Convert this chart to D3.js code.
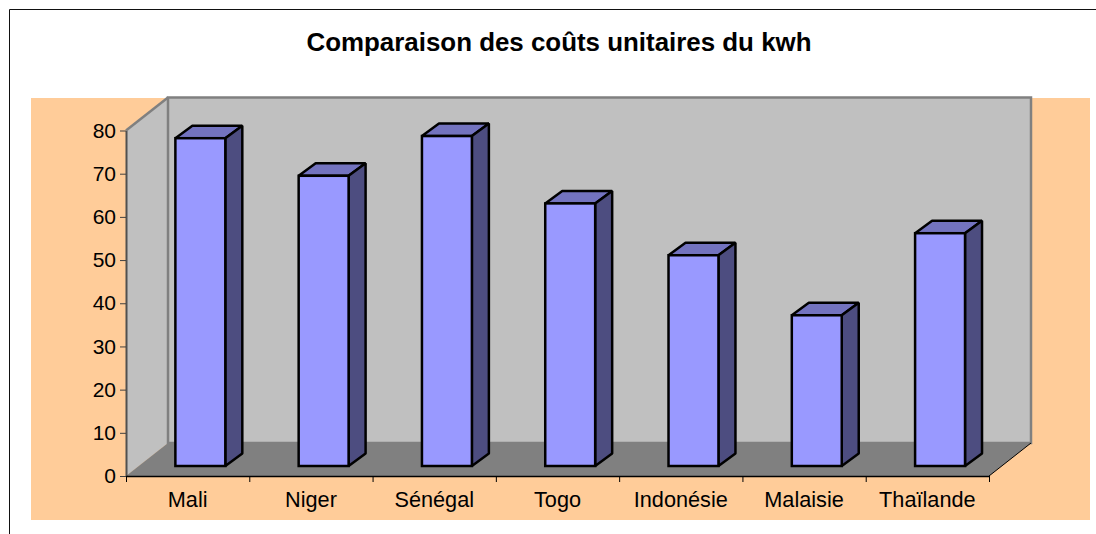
<!DOCTYPE html>
<html>
<head>
<meta charset="utf-8">
<script src="https://cdn.jsdelivr.net/npm/d3@7"></script>
<style>
  html, body { margin: 0; padding: 0; background: #fff; overflow: hidden; }
  text { font-family: "Liberation Sans", Arial, sans-serif; fill: #000; }
</style>
</head>
<body>
<script>
const categories = ['Mali', 'Niger', 'Sénégal', 'Togo', 'Indonésie', 'Malaisie', 'Thaïlande']
const values = [75.9, 67.2, 76.4, 60.8, 48.8, 34.9, 53.9]
const yTicks = [0, 10, 20, 30, 40, 50, 60, 70, 80]
const titleText = 'Comparaison des coûts unitaires du kwh'

const width = 1096
const height = 534

const x0 = 126
const x1 = 989
const y0 = 476
const y80 = 130.5
const wallDx = 42
const wallDy = -33
const barDx = 17
const barDy = -12.5
const barShiftX = 12.7
const barShiftY = -10

const x = d3.scaleBand().domain(categories).range([x0, x1]).paddingInner(0.595).paddingOuter(0.2975)
const xEdges = d3.scaleLinear().domain([0, categories.length]).range([x0, x1])
const y = d3.scaleLinear().domain([0, 80]).range([y0, y80])

const svg = d3.select('body').append('svg')
  .attr('width', width)
  .attr('height', height)
  .style('display', 'block')

// outer frame, only top and left show
svg.append('path')
  .attr('d', `M9.5,${height}V9.5H${width}`)
  .attr('fill', 'none')
  .attr('stroke', '#111')
  .attr('stroke-width', 1)

svg.append('rect')
  .attr('x', 31).attr('y', 98).attr('width', 1059).attr('height', 422)
  .attr('fill', '#ffcc99')

svg.append('text')
  .attr('x', 559).attr('y', 51)
  .attr('text-anchor', 'middle')
  .attr('font-size', 25.9)
  .attr('font-weight', 'bold')
  .text(titleText)

// walls
const poly = pts => 'M' + pts.map(p => p.join(',')).join('L') + 'Z'

svg.append('path')
  .attr('d', poly([[x0, y(80)], [x0 + wallDx, y(80) + wallDy], [x0 + wallDx, y0 + wallDy], [x0, y0]]))
  .attr('fill', '#c0c0c0')

svg.append('rect')
  .attr('x', x0 + wallDx).attr('y', y(80) + wallDy)
  .attr('width', x1 - x0).attr('height', y0 - y(80))
  .attr('fill', '#c0c0c0')
  .attr('stroke', '#808080')
  .attr('stroke-width', 2.5)

svg.append('path')
  .attr('d', poly([[x0, y0], [x1, y0], [x1 + wallDx, y0 + wallDy], [x0 + wallDx, y0 + wallDy]]))
  .attr('fill', '#808080')

svg.append('line')
  .attr('x1', x0).attr('y1', y(80)).attr('x2', x0 + wallDx).attr('y2', y(80) + wallDy)
  .attr('stroke', '#808080').attr('stroke-width', 2.5)

svg.append('line')
  .attr('x1', x1).attr('y1', y0).attr('x2', x1 + wallDx).attr('y2', y0 + wallDy)
  .attr('stroke', '#000').attr('stroke-width', 1)

// bars
const bars = svg.append('g').attr('class', 'bars')
  .selectAll('g')
  .data(categories.map((c, i) => ({ c, v: values[i] })))
  .enter()
  .append('g')
  .attr('transform', `translate(${barShiftX},${barShiftY})`)
  .attr('stroke', '#000')
  .attr('stroke-width', 2.5)
  .attr('stroke-linejoin', 'bevel')

bars.append('path')
  .attr('fill', '#7373bf')
  .attr('d', d => {
    const l = x(d.c), r = l + x.bandwidth(), t = y(d.v)
    return poly([[l, t], [l + barDx, t + barDy], [r + barDx, t + barDy], [r, t]])
  })

bars.append('path')
  .attr('fill', '#4d4d80')
  .attr('d', d => {
    const r = x(d.c) + x.bandwidth(), t = y(d.v)
    return poly([[r, t], [r + barDx, t + barDy], [r + barDx, y0 + barDy], [r, y0]])
  })

bars.append('rect')
  .attr('fill', '#9999ff')
  .attr('x', d => x(d.c))
  .attr('y', d => y(d.v))
  .attr('width', x.bandwidth())
  .attr('height', d => y0 - y(d.v))
  .attr('stroke-linejoin', 'miter')

// axes
const yAxis = svg.append('g')
  .attr('transform', `translate(${x0},0)`)
  .call(d3.axisLeft(y).tickValues(yTicks).tickSize(6).tickPadding(4).tickSizeOuter(0))
yAxis.selectAll('text').attr('font-size', 21).style('font-family', '"Liberation Sans", Arial, sans-serif')
yAxis.selectAll('line').attr('stroke', '#404040')
yAxis.select('.domain').attr('stroke', '#505050').attr('stroke-width', 2)

const xLabels = svg.append('g')
  .attr('transform', `translate(0,${y0})`)
  .call(d3.axisBottom(x).tickSize(0).tickPadding(16))
xLabels.selectAll('text').attr('font-size', 21.7).style('font-family', '"Liberation Sans", Arial, sans-serif')
xLabels.select('.domain').remove()

const xTicks = svg.append('g')
  .attr('transform', `translate(0,${y0})`)
  .call(d3.axisBottom(xEdges).ticks(categories.length).tickSize(6).tickFormat('').tickSizeOuter(0))
xTicks.select('.domain').attr('stroke', '#000').attr('stroke-width', 1.5)
</script>
</body>
</html>
